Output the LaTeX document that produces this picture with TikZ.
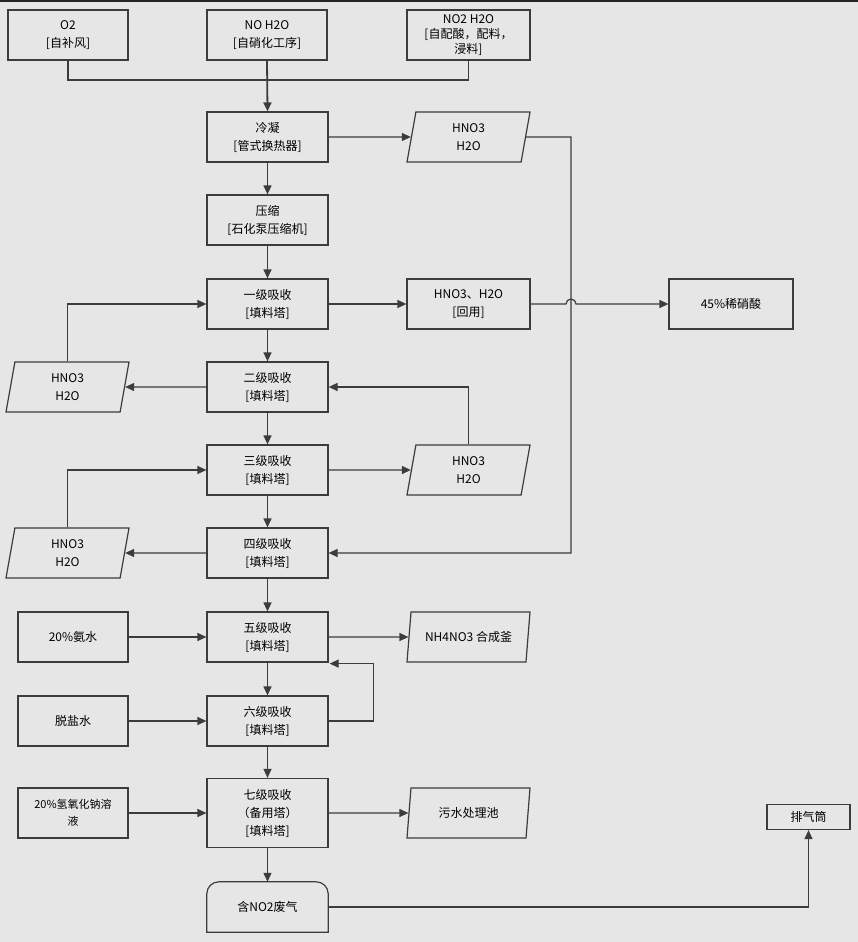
\documentclass[tikz,border=0pt]{standalone}
\usepackage{fontspec}
\setmainfont{Noto Sans CJK SC}
\usetikzlibrary{arrows.meta,shapes.geometric}

\definecolor{bgray}{HTML}{E6E6E6}
\definecolor{lgray}{HTML}{3C3C3C}

\tikzset{
  proc/.style={draw=lgray,line width=1.2pt,fill=bgray,align=center,
    minimum width=121pt,minimum height=50pt,inner sep=1pt,
    font=\fontsize{12}{18}\selectfont},
  iobox/.style={proc,trapezium,trapezium left angle=73,trapezium right angle=107,
    trapezium stretches body,minimum width=123pt},
  arr/.style={draw=lgray,line width=1.2pt,-{Triangle[length=9pt,width=8pt]}},
  wire/.style={draw=lgray,line width=1.2pt}
}

\begin{document}
\begin{tikzpicture}[x=1pt,y=1pt]
    \useasboundingbox (0,0) rectangle (858,-942);
    \fill[bgray] (0,0) rectangle (858,-942);
    \fill[black!85] (0,0) rectangle (858,-2);

    % feed gases
    \node[proc,minimum width=120pt] (oxy) at (68,-35) {O2\\{[自补风]}};
    \node[proc,minimum width=120pt] (nitro) at (267,-35) {NO H2O\\{[自硝化工序]}};
    \node[proc,minimum width=123pt,font=\fontsize{12}{15}\selectfont] (acidin) at (468.5,-35) {NO2 H2O\\{[自配酸，配料，}\\浸料]};

    % main column
    \node[proc] (cool) at (267.5,-137) {冷凝\\{[管式换热器]}};
    \node[proc] (comp) at (267.5,-220) {压缩\\{[石化泵压缩机]}};
    \node[proc] (abs1) at (267.5,-304) {一级吸收\\{[填料塔]}};
    \node[proc] (abs2) at (267.5,-387) {二级吸收\\{[填料塔]}};
    \node[proc] (abs3) at (267.5,-470) {三级吸收\\{[填料塔]}};
    \node[proc] (abs4) at (267.5,-553) {四级吸收\\{[填料塔]}};
    \node[proc] (abs5) at (267.5,-637) {五级吸收\\{[填料塔]}};
    \node[proc] (abs6) at (267.5,-721) {六级吸收\\{[填料塔]}};
    \node[proc,minimum height=69pt] (abs7) at (267.5,-813) {七级吸收\\（备用塔）\\{[填料塔]}};
    \node[minimum width=121pt,minimum height=50pt,font=\fontsize{12}{18}\selectfont] (waste) at (267.5,-907) {含NO2废气};
    \draw[wire] (waste.south west) -- ([yshift=-12pt]waste.north west)
        arc[start angle=180,end angle=90,radius=12pt] -- ([xshift=-12pt]waste.north east)
        arc[start angle=90,end angle=0,radius=12pt] -- (waste.south east) -- cycle;

    % side products
    \node[iobox] (acid1) at (468.5,-137) {HNO3\\H2O};
    \node[proc,minimum width=123pt] (reuse) at (468.5,-304) {HNO3、H2O\\{[回用]}};
    \node[proc,minimum width=124pt] (dilute) at (731,-304) {45\%稀硝酸};
    \node[iobox] (acid2) at (67.5,-387) {HNO3\\H2O};
    \node[iobox] (acid3) at (468.5,-470) {HNO3\\H2O};
    \node[iobox] (acid4) at (67.5,-553) {HNO3\\H2O};
    \node[proc,minimum width=110pt] (ammonia) at (73,-637) {20\%氨水};
    \node[iobox] (salt) at (468.5,-637) {NH4NO3 合成釜};
    \node[proc,minimum width=110pt] (soft) at (73,-721) {脱盐水};
    \node[proc,minimum width=110pt,font=\fontsize{11}{17}\selectfont] (naoh) at (73,-813) {20\%氢氧化钠溶\\液};
    \node[iobox] (sewage) at (468.5,-813) {污水处理池};
    \node[proc,minimum width=83pt,minimum height=25pt] (stack) at (808.5,-817) {排气筒};

    % feed connectors
    \coordinate (mix) at (267,-80);
    \draw[wire] (oxy.south) |- (mix) -| (acidin.south);
    \draw[arr,line width=1.8pt] (nitro.south) -- (cool.north);

    % main flow
    \draw[arr] (cool) -- (comp);
    \draw[arr] (comp) -- (abs1);
    \draw[arr] (abs1) -- (abs2);
    \draw[arr] (abs2) -- (abs3);
    \draw[arr] (abs3) -- (abs4);
    \draw[arr] (abs4) -- (abs5);
    \draw[arr] (abs5) -- (abs6);
    \draw[arr] (abs6) -- (abs7);
    \draw[arr] (abs7) -- (waste);

    % side flows
    \coordinate (bus) at (571,-137);
    \coordinate (hop) at (566,-304);
    \draw[arr] (cool.east) -- (acid1.west);
    \draw[arr] (acid1.east) -- (bus) |- (abs4.east);
    \draw[arr] (abs1.east) -- (reuse.west);
    \draw[arr] (reuse.east) -- (hop) arc[start angle=180,end angle=0,radius=5pt] -- (dilute.west);
    \draw[arr] (acid2.north) |- (abs1.west);
    \draw[arr] (abs2.west) -- (acid2.east);
    \draw[arr] (acid3.north) |- (abs2.east);
    \draw[arr] (abs3.east) -- (acid3.west);
    \draw[arr] (acid4.north) |- (abs3.west);
    \draw[arr] (abs4.west) -- (acid4.east);
    \draw[arr] (ammonia.east) -- (abs5.west);
    \draw[arr] (abs5.east) -- (salt.west);
    \draw[arr] (soft.east) -- (abs6.west);
    \draw[arr] (abs6.east) -- ++(45,0) |- ([xshift=1pt,yshift=-1pt]abs5.south east);
    \draw[arr] (naoh.east) -- (abs7.west);
    \draw[arr] (abs7.east) -- (sewage.west);
    \draw[arr] (waste.east) -| (stack.south);
\end{tikzpicture}
\end{document}
